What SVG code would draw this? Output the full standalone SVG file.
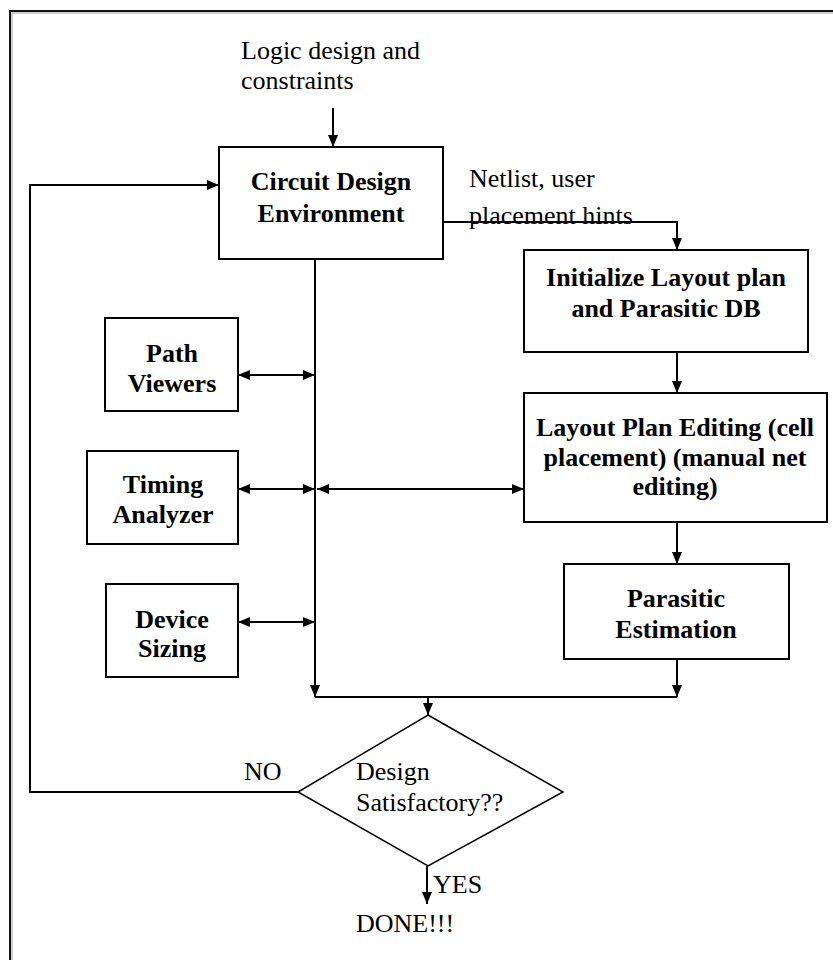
<svg xmlns="http://www.w3.org/2000/svg" width="833" height="960" viewBox="0 0 833 960">
  <style>
    .box { fill: #ffffff; stroke: #000000; stroke-width: 2; }
    .dia { fill: #ffffff; stroke: #000000; stroke-width: 1.5; }
    .wire { fill: none; stroke: #000000; stroke-width: 2; }
    .lbl { font-family: "Liberation Serif", "Times New Roman", serif; font-size: 26px; fill: #000000; }
    .node { font-family: "Liberation Serif", "Times New Roman", serif; font-size: 26px; font-weight: bold; fill: #000000; text-anchor: middle; }
  </style>
  <defs>
    <marker id="arrow" markerUnits="userSpaceOnUse" markerWidth="13" markerHeight="11" refX="12" refY="5" orient="auto-start-reverse">
      <path d="M0,0 L12,5 L0,10 z" fill="#000000"/>
    </marker>
  </defs>

  <rect x="0" y="0" width="833" height="960" fill="#ffffff"/>

  <!-- frame: top and left edges only -->
  <g id="frame">
    <path d="M10,960 V11 H833" fill="none" stroke="#111111" stroke-width="2"/>
    <path d="M12,960 V13 H833" fill="none" stroke="#9a9a9a" stroke-width="1"/>
  </g>

  <!-- connectors -->
  <g id="connectors">
    <line class="wire" x1="333" y1="108" x2="333" y2="147" marker-end="url(#arrow)"/>
    <polyline class="wire" points="443,222 677,222 677,250" marker-end="url(#arrow)"/>
    <line class="wire" x1="677" y1="352" x2="677" y2="393" marker-end="url(#arrow)"/>
    <line class="wire" x1="677" y1="522" x2="677" y2="564" marker-end="url(#arrow)"/>
    <line class="wire" x1="677" y1="659" x2="677" y2="697" marker-end="url(#arrow)"/>
    <line class="wire" x1="315" y1="259" x2="315" y2="697" marker-end="url(#arrow)"/>
    <line class="wire" x1="315" y1="697" x2="677" y2="697"/>
    <line class="wire" x1="428" y1="697" x2="428" y2="715" marker-end="url(#arrow)"/>
    <line class="wire" x1="238" y1="375" x2="315" y2="375" marker-start="url(#arrow)" marker-end="url(#arrow)"/>
    <line class="wire" x1="238" y1="489" x2="315" y2="489" marker-start="url(#arrow)" marker-end="url(#arrow)"/>
    <line class="wire" x1="317" y1="489" x2="524" y2="489" marker-start="url(#arrow)" marker-end="url(#arrow)"/>
    <line class="wire" x1="238" y1="622" x2="315" y2="622" marker-start="url(#arrow)" marker-end="url(#arrow)"/>
    <polyline class="wire" points="298,792 30,792 30,185 219,185" marker-end="url(#arrow)"/>
    <line class="wire" x1="427" y1="866" x2="427" y2="904" marker-end="url(#arrow)"/>
  </g>

  <!-- free labels -->
  <g id="labels">
    <text class="lbl" x="241" y="59">Logic design and</text>
    <text class="lbl" x="241" y="89">constraints</text>
    <text class="lbl" x="469" y="187">Netlist, user</text>
    <text class="lbl" x="469" y="224">placement hints</text>
    <text class="lbl" x="244" y="780">NO</text>
    <text class="lbl" x="433" y="893">YES</text>
    <text class="lbl" x="356" y="932">DONE!!!</text>
  </g>

  <g id="circuit-design">
    <rect class="box" x="219" y="147" width="224" height="112"/>
    <text class="node" x="331" y="190">Circuit Design</text>
    <text class="node" x="331" y="222">Environment</text>
  </g>

  <g id="init-layout">
    <rect class="box" x="524" y="250" width="284" height="102"/>
    <text class="node" x="666" y="286">Initialize Layout plan</text>
    <text class="node" x="666" y="317">and Parasitic DB</text>
  </g>

  <g id="layout-editing">
    <rect class="box" x="524" y="393" width="303" height="129"/>
    <text class="node" x="675" y="436">Layout Plan Editing (cell</text>
    <text class="node" x="675" y="466">placement) (manual net</text>
    <text class="node" x="675" y="495">editing)</text>
  </g>

  <g id="parasitic-estimation">
    <rect class="box" x="564" y="564" width="225" height="95"/>
    <text class="node" x="676" y="607">Parasitic</text>
    <text class="node" x="676" y="638">Estimation</text>
  </g>

  <g id="path-viewers">
    <rect class="box" x="105" y="318" width="133" height="93"/>
    <text class="node" x="172" y="362">Path</text>
    <text class="node" x="172" y="392">Viewers</text>
  </g>

  <g id="timing-analyzer">
    <rect class="box" x="87" y="451" width="151" height="93"/>
    <text class="node" x="163" y="493">Timing</text>
    <text class="node" x="163" y="523">Analyzer</text>
  </g>

  <g id="device-sizing">
    <rect class="box" x="106" y="584" width="132" height="93"/>
    <text class="node" x="172" y="628">Device</text>
    <text class="node" x="172" y="657">Sizing</text>
  </g>

  <g id="design-check">
    <polygon class="dia" points="428,715 563,792 428,866 298,792"/>
    <text class="lbl" x="356" y="780">Design</text>
    <text class="lbl" x="356" y="811">Satisfactory??</text>
  </g>
</svg>
